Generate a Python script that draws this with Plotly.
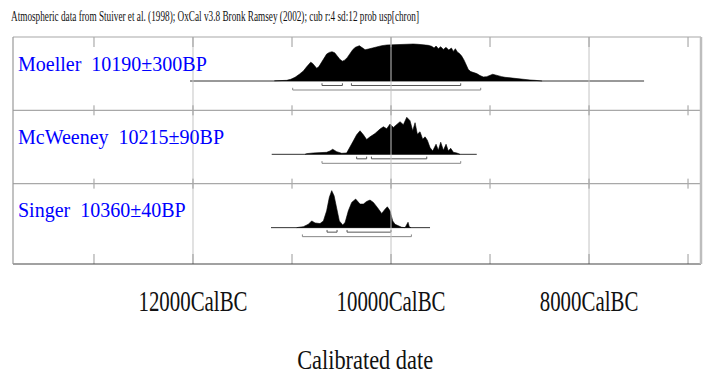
import plotly.graph_objects as go

# ---------------- data (calendar years BC, probability) ----------------
moeller_years = [11178, 11121, 11054, 11013, 10969, 10926, 10885, 10852, 10825, 10811, 10791,
                 10771, 10751, 10730, 10703, 10676, 10650, 10623, 10596, 10569, 10542, 10515,
                 10491, 10468, 10441, 10414, 10387, 10360, 10336, 10320, 10296, 10262, 10229,
                 10195, 10144, 10094, 10043, 9976, 9909, 9841, 9774, 9724, 9673, 9623, 9589,
                 9565, 9545, 9522, 9498, 9471, 9444, 9417, 9390, 9370, 9350, 9330, 9309, 9286,
                 9262, 9242, 9219, 9195, 9168, 9134, 9101, 9067, 9033, 9000, 8973, 8946, 8916,
                 8882, 8848, 8798, 8747, 8697, 8646, 8596, 8545, 8495, 8474]
moeller_prob = [0.5, 1, 2, 5, 11, 20, 30, 42, 52, 56, 52,
                44, 38, 42, 56, 70, 80, 85, 87, 84, 74, 64,
                59, 62, 70, 82, 93, 100, 104, 105, 100, 93, 95,
                98, 102, 105, 107, 108, 109, 110, 110, 109, 108, 106, 103,
                98, 104, 96, 102, 94, 100, 92, 98, 88, 96, 86, 82, 74,
                62, 48, 34, 28, 26, 22, 16, 12, 13, 17, 20, 18, 15,
                13, 11, 9, 7, 5, 4, 3, 2, 1, 0]

mcweeney_years = [10868, 10852, 10784, 10717, 10650, 10616, 10589, 10549, 10498, 10448, 10414,
                  10380, 10347, 10313, 10279, 10246, 10212, 10161, 10111, 10077, 10043, 10010,
                  9976, 9942, 9909, 9875, 9841, 9808, 9781, 9757, 9734, 9707, 9680, 9656, 9633,
                  9606, 9579, 9545, 9522, 9498, 9471, 9444, 9421, 9397, 9370, 9336, 9303]
mcweeney_prob = [0, 2, 4, 5, 6, 10, 15, 8, 3, 4, 20,
                 40, 58, 70, 58, 44, 52, 62, 75, 82, 76, 90,
                 80, 90, 97, 88, 110, 100, 70, 94, 60, 67, 45, 52, 42,
                 20, 10, 30, 12, 36, 12, 30, 10, 18, 6, 4, 0]

singer_years = [10953, 10885, 10835, 10801, 10767, 10717, 10683, 10650, 10623, 10599, 10575,
                10549, 10522, 10488, 10464, 10431, 10397, 10357, 10313, 10279, 10246, 10212,
                10178, 10138, 10094, 10060, 10037, 10010, 9983, 9959, 9926, 9892, 9858, 9841,
                9828, 9815, 9798]
singer_prob = [0, 3, 10, 20, 14, 12, 20, 50, 90, 110, 95,
               55, 20, 8, 15, 50, 75, 85, 70, 70, 78, 82,
               75, 60, 42, 55, 62, 50, 20, 10, 5, 1, 0, 8,
               16, 2, 0]

# extent of each calibration baseline (BC)
baseline_start = [12030, 11205, 11212]
baseline_end = [7444, 9134, 9606]

# highest probability ranges (BC): 68.2% and 95.4%
range68 = [[(10697, 10491), (10400, 9296)],
           [(10347, 10246), (10198, 9639)],
           [(10646, 10545), (10444, 10000)]]
range95 = [[(10993, 9094)],
           [(10697, 9296)],
           [(10895, 9794)]]

sample_labels = ["Moeller\u00a0\u00a010190±300BP",
                 "McWeeney\u00a0\u00a010215±90BP",
                 "Singer\u00a0\u00a010360±40BP"]

tick_years = [12000, 10000, 8000]
tick_labels = ["12000CalBC", "10000CalBC", "8000CalBC"]
grid_years = [12000, 10000, 8000]
minor_years = [13000, 12000, 11000, 10000, 9000, 8000, 7000]

title_text = ("Atmospheric data from Stuiver et al. (1998); OxCal v3.8 Bronk Ramsey (2002); "
              "cub r:4 sd:12 prob usp[chron]")
x_title = "Calibrated date"

# ---------------- layout geometry ----------------
W, H = 706, 377
ML, MR, MT, MB = 13, 5, 37, 113
PLOT_W = W - ML - MR
PLOT_H = H - MT - MB
domains = [(0.677, 1.0), (0.354, 0.677), (0.0, 0.354)]
BASE_FROM_TOP = 44      # px from panel top to baseline
PEAK_PX = 37            # px height of the tallest peak
UNITS = 110 / PEAK_PX   # probability units per pixel
SERIF = "Liberation Serif"

series = [(moeller_years, moeller_prob), (mcweeney_years, mcweeney_prob), (singer_years, singer_prob)]
yaxes = ["y", "y2", "y3"]

fig = go.Figure()
for i, (yrs, pr) in enumerate(series):
    ya = yaxes[i]
    # baseline
    fig.add_trace(go.Scatter(x=[baseline_start[i], baseline_end[i]], y=[0, 0], mode="lines",
                             line=dict(color="#333333", width=1), yaxis=ya, hoverinfo="skip",
                             showlegend=False))
    # distribution
    fig.add_trace(go.Scatter(x=yrs, y=pr, mode="lines", fill="tozeroy", fillcolor="#000000",
                             line=dict(color="#000000", width=0.6), yaxis=ya, showlegend=False))
    # range bars
    for lvl, (rng, ypx, col) in enumerate([(range68[i], -4.5, "#555555"), (range95[i], -9, "#888888")]):
        yv = ypx * UNITS
        ytop = (ypx + 2.2) * UNITS
        for a, b in rng:
            fig.add_trace(go.Scatter(x=[a, a, b, b], y=[ytop, yv, yv, ytop], mode="lines",
                                     line=dict(color=col, width=1), yaxis=ya, hoverinfo="skip",
                                     showlegend=False))

layout_axes = {}
for i, (d0, d1) in enumerate(domains):
    h_px = (d1 - d0) * PLOT_H
    key = "yaxis" if i == 0 else f"yaxis{i+1}"
    layout_axes[key] = dict(domain=[d0, d1], range=[-(h_px - BASE_FROM_TOP) * UNITS, BASE_FROM_TOP * UNITS],
                            visible=False, fixedrange=True, anchor="x", automargin=False)

shapes = []
# full vertical gridlines
for gy in grid_years:
    shapes.append(dict(type="line", xref="x", yref="paper", x0=gy, x1=gy, y0=0, y1=1,
                       line=dict(color="#c4c4c4", width=1), layer="above"))
# short tick marks at panel boundaries
bounds = [1.0, 0.677, 0.354, 0.0]
for my in minor_years:
    for j, bnd in enumerate(bounds):
        if j == 0:
            segs = [(bnd, bnd - 10 / PLOT_H)]
        elif j == 3:
            segs = [(bnd, bnd + 10 / PLOT_H)]
        else:
            segs = [(bnd - 5 / PLOT_H, bnd + 5 / PLOT_H)]
        for a, b in segs:
            shapes.append(dict(type="line", xref="x", yref="paper", x0=my, x1=my, y0=a, y1=b,
                               line=dict(color="#9a9a9a", width=1), layer="above"))
# frame and separators
shapes += [
    dict(type="line", xref="paper", yref="paper", x0=0, x1=1, y0=1, y1=1, line=dict(color="#a8a8a8", width=1.2)),
    dict(type="line", xref="paper", yref="paper", x0=0, x1=1, y0=0.677, y1=0.677, line=dict(color="#a8a8a8", width=1.2)),
    dict(type="line", xref="paper", yref="paper", x0=0, x1=1, y0=0.354, y1=0.354, line=dict(color="#a8a8a8", width=1.2)),
    dict(type="line", xref="paper", yref="paper", x0=0, x1=1, y0=0, y1=0, line=dict(color="#444444", width=1.2)),
    dict(type="line", xref="paper", yref="paper", x0=0, x1=0, y0=0, y1=1, line=dict(color="#999999", width=1.2)),
    dict(type="line", xref="paper", yref="paper", x0=1, x1=1, y0=0, y1=1, line=dict(color="#bdbdbd", width=2.5)),
]

annotations = []
label_y = [1 - 27 / ((d1 - d0) * PLOT_H) for d0, d1 in domains]
for i, lab in enumerate(sample_labels):
    ref = "y" if i == 0 else f"y{i+1}"
    annotations.append(dict(text=lab, xref="paper", yref=f"{ref} domain", x=3 / PLOT_W, y=label_y[i],
                            xanchor="left", yanchor="middle", showarrow=False,
                            font=dict(family=SERIF, size=20, color="#0000ff")))
# axis title (placed as annotation for exact position)
annotations.append(dict(text=x_title, xref="paper", yref="paper",
                        x=(365 - ML) / PLOT_W, y=-(359 - (MT + PLOT_H)) / PLOT_H,
                        xanchor="center", yanchor="middle", showarrow=False,
                        font=dict(family=SERIF, size=28, color="#111111")))

fig.update_layout(
    template="none",
    width=W, height=H,
    margin=dict(l=ML, r=MR, t=MT, b=MB, pad=0, autoexpand=False),
    paper_bgcolor="white", plot_bgcolor="white",
    showlegend=False,
    title=dict(text=title_text, xref="container", x=11 / W, xanchor="left",
               yref="container", y=1 - 16 / H, yanchor="middle", automargin=False,
               font=dict(family=SERIF, size=14, color="#111111")),
    xaxis=dict(range=[13818, 6869], tickvals=tick_years, ticktext=tick_labels,
               showgrid=False, zeroline=False, showline=False, ticks="", anchor="y3",
               ticklabelstandoff=16, fixedrange=True, automargin=False,
               tickfont=dict(family=SERIF, size=30, color="#111111")),
    shapes=shapes,
    annotations=annotations,
    **layout_axes,
)

post = """
(function(){
  document.documentElement.style.margin = '0';
  document.body.style.margin = '0';
  document.body.style.padding = '0';
  var gd = document.getElementById('{plot_id}');
  function fit(nodes, r){
    nodes.forEach(function(t){
      var w = t.getComputedTextLength();
      t.setAttribute('textLength', (w*r).toFixed(2));
      t.setAttribute('lengthAdjust', 'spacingAndGlyphs');
    });
  }
  var tt = gd.querySelector('.gtitle');
  if (tt) fit([tt], 408 / tt.getComputedTextLength());
  var ticks = Array.from(gd.querySelectorAll('.xtick text'));
  var ref = ticks.filter(function(t){ return t.textContent === '12000CalBC'; })[0] || ticks[0];
  if (ref) fit(ticks, 109 / ref.getComputedTextLength());
  var xt = Array.from(gd.querySelectorAll('.annotation-text')).filter(function(t){
    return t.textContent === 'Calibrated date'; })[0];
  if (xt) fit([xt], 136 / xt.getComputedTextLength());
})();
"""

fig.write_html("out.html", post_script=post, config={"displayModeBar": False, "staticPlot": True})
